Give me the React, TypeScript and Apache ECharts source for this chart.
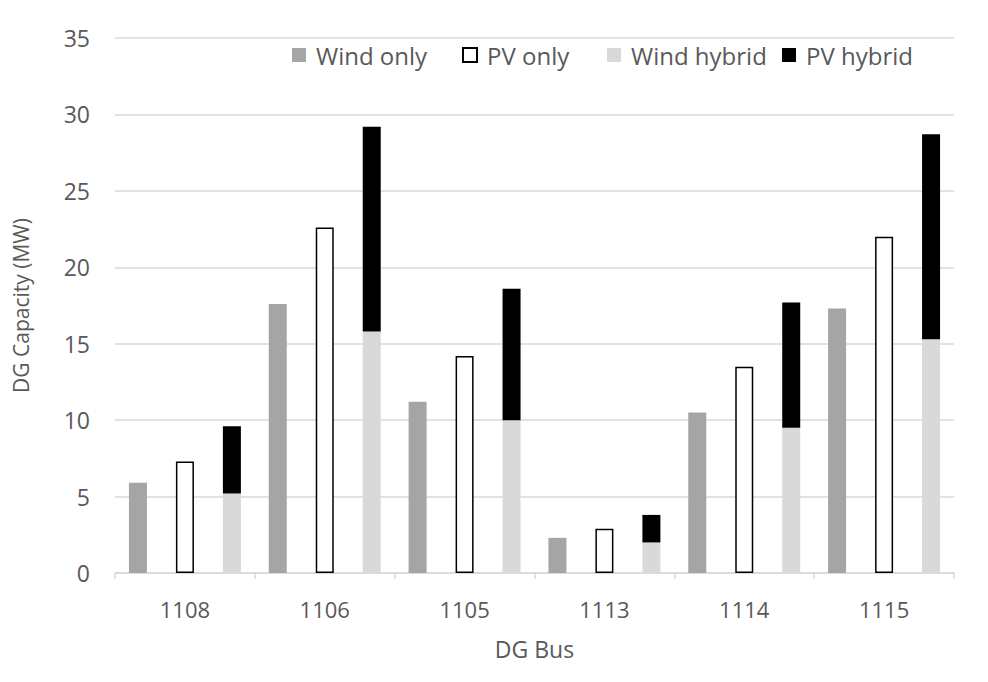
import React, { useEffect, useRef } from "react";
import * as echarts from "echarts";

const categories = ["1108", "1106", "1105", "1113", "1114", "1115"];
const windOnly = [5.9, 17.6, 11.2, 2.3, 10.5, 17.3];
const pvOnly = [7.3, 22.6, 14.2, 2.9, 13.5, 22.0];
const windHybrid = [5.2, 15.8, 10.0, 2.0, 9.5, 15.3];
const pvHybrid = [4.4, 13.4, 8.6, 1.8, 8.2, 13.4];
const seriesNames = ["Wind only", "PV only", "Wind hybrid", "PV hybrid"];

const FONT = "Open Sans";
const TEXT = "#595959";
const legendLefts = [292, 462, 607, 782];

export default function App() {
  const ref = useRef<HTMLDivElement>(null);
  useEffect(() => {
    if (!ref.current) return;
    const chart = echarts.init(ref.current, undefined, { renderer: "svg" });
    chart.setOption({
      animation: false,
      backgroundColor: "#ffffff",
      textStyle: { fontFamily: FONT },
      graphic: [
        { type: "line", shape: { x1: 5.5, y1: 4.5, x2: 988, y2: 4.5 }, style: { stroke: "#d9d9d9", lineWidth: 1 } },
        { type: "line", shape: { x1: 5.5, y1: 4.5, x2: 5.5, y2: 682 }, style: { stroke: "#d9d9d9", lineWidth: 1 } },
      ],
      legend: seriesNames.map((n, i) => ({
        left: legendLefts[i],
        top: 43,
        padding: 0,
        itemWidth: 14,
        itemHeight: 14,
        icon: "rect",
        textStyle: { fontFamily: FONT, fontSize: 24, color: TEXT, padding: [0, 0, 0, 5] },
        data: [n],
      })),
      grid: { left: 115, right: 34, top: 38, bottom: 109 },
      xAxis: {
        type: "category",
        data: categories,
        name: "DG Bus",
        nameLocation: "middle",
        nameGap: 64,
        nameTextStyle: { fontFamily: FONT, fontSize: 23, color: TEXT },
        axisLine: { lineStyle: { color: "#d9d9d9", width: 1.5 } },
        axisTick: { show: true, length: 6, lineStyle: { color: "#d9d9d9", width: 1.5 } },
        axisLabel: { fontFamily: FONT, fontSize: 22, color: TEXT, margin: 25 },
      },
      yAxis: {
        type: "value",
        min: 0,
        max: 35,
        interval: 5,
        name: "DG Capacity (MW)",
        nameLocation: "middle",
        nameGap: 84,
        nameTextStyle: { fontFamily: FONT, fontSize: 21, color: TEXT },
        axisLine: { show: false },
        axisTick: { show: false },
        axisLabel: { fontFamily: FONT, fontSize: 23, color: TEXT, margin: 25 },
        splitLine: { lineStyle: { color: "#d9d9d9", width: 1.5 } },
      },
      series: [
        {
          name: "Wind only",
          type: "bar",
          data: windOnly,
          barWidth: 18,
          barGap: "161%",
          itemStyle: { color: "#a5a5a5" },
        },
        {
          name: "PV only",
          type: "bar",
          data: pvOnly,
          barWidth: 18,
          barGap: "161%",
          itemStyle: { color: "#ffffff", borderColor: "#000000", borderWidth: 1.5 },
        },
        {
          name: "Wind hybrid",
          type: "bar",
          stack: "hybrid",
          data: windHybrid,
          barWidth: 18,
          barGap: "161%",
          itemStyle: { color: "#d9d9d9" },
        },
        {
          name: "PV hybrid",
          type: "bar",
          stack: "hybrid",
          data: pvHybrid,
          barWidth: 18,
          barGap: "161%",
          itemStyle: { color: "#000000" },
        },
      ],
    });
    return () => chart.dispose();
  }, []);
  return (
    <div style={{ margin: "-8px 0 0 -8px", width: 988, height: 682 }}>
      <div ref={ref} style={{ width: 988, height: 682 }} />
    </div>
  );
}
